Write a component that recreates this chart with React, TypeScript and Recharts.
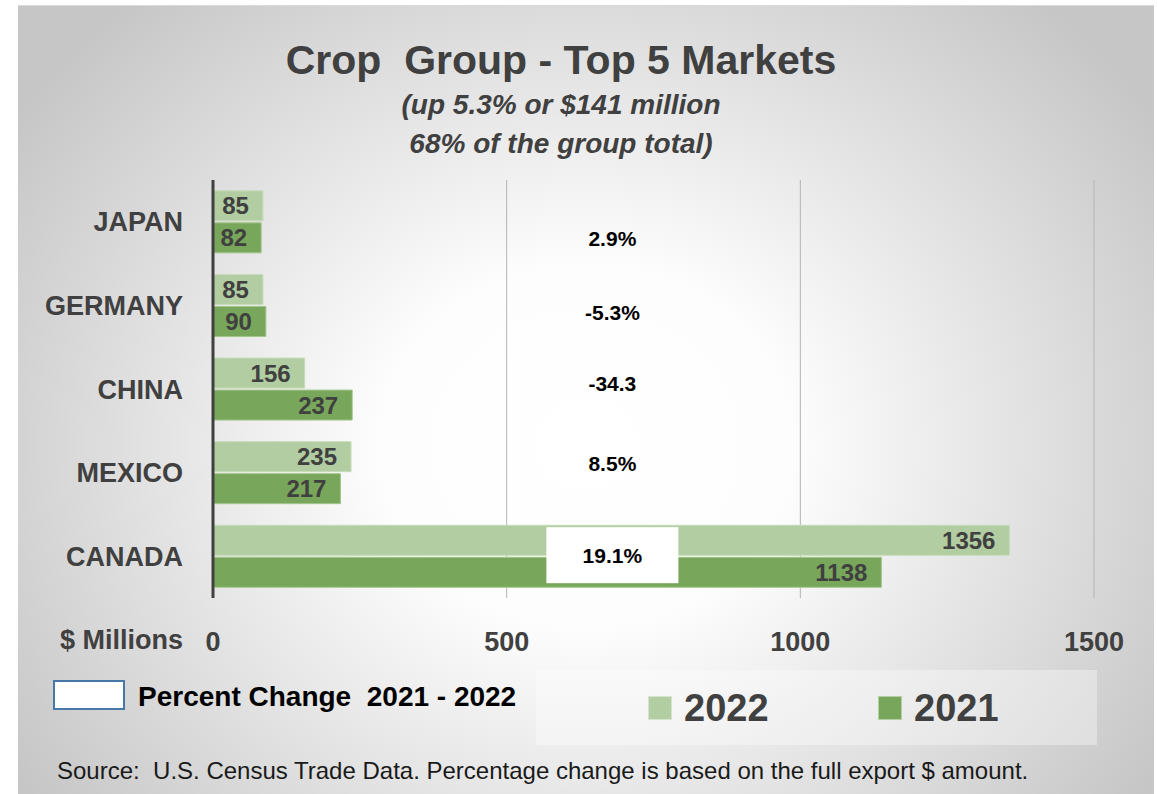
import React from "react"
import { Bar, BarChart, CartesianGrid, LabelList, Legend, ReferenceDot, XAxis, YAxis } from "recharts"

const countries = ["JAPAN", "GERMANY", "CHINA", "MEXICO", "CANADA"]
const exports2022 = [85, 85, 156, 235, 1356]
const exports2021 = [82, 90, 237, 217, 1138]
const pctChange = ["2.9%", "-5.3%", "-34.3", "8.5%", "19.1%"]
const years = ["2022", "2021"]
const xTicks = [0, 500, 1000, 1500]

const rows = countries.map((country, i) => ({
  country,
  y2022: exports2022[i],
  y2021: exports2021[i],
}))

const FONT = '"Liberation Sans", Arial, sans-serif'
const LIGHT = "#b1cda1"
const DARK = "#78a65a"
const INK = "#404040"

// percent notes sit at one spot on the value axis; nudges mimic the hand-placed text boxes
const PCT_X = 680
const pctNudge = [17, 7, -6, -9, -1]

function PctTag({ cx, cy, text, boxed }: { cx: number; cy: number; text: string; boxed: boolean }) {
  return (
    <g>
      {boxed && <rect x={cx - 66} y={cy - 28} width={132} height={56} fill="#ffffff" />}
      <text
        x={cx}
        y={cy}
        dy="0.36em"
        textAnchor="middle"
        fontFamily={FONT}
        fontSize={21}
        fontWeight={700}
        fill="#000"
      >
        {text}
      </text>
    </g>
  )
}

function YearLegend({ payload }: any) {
  const items = [...(payload || [])].sort(
    (a: any, b: any) => years.indexOf(String(a.value)) - years.indexOf(String(b.value))
  )
  return (
    <div style={{ position: "relative", width: 561, height: 75, background: "rgba(255,255,255,0.35)" }}>
      {items.map((p: any, i: number) => (
        <div
          key={p.value}
          style={{
            position: "absolute",
            left: 112 + i * 230,
            top: 0,
            height: 75,
            display: "flex",
            alignItems: "center",
          }}
        >
          <span
            style={{
              display: "inline-block",
              width: 22,
              height: 22,
              background: p.color,
              border: "1px solid rgba(255,255,255,0.45)",
              marginRight: 12,
            }}
          />
          <span style={{ fontFamily: FONT, fontSize: 38, fontWeight: 700, color: INK, lineHeight: 1 }}>
            {p.value}
          </span>
        </div>
      ))}
    </div>
  )
}

const textBase: React.CSSProperties = { position: "absolute", fontFamily: FONT, lineHeight: 1, whiteSpace: "pre" }

export default function App() {
  return (
    <div style={{ position: "absolute", left: 0, top: 0, width: 1157, height: 794, overflow: "hidden", background: "#fff" }}>
      <div
        style={{
          position: "absolute",
          left: 18,
          top: 5,
          width: 1136,
          height: 800,
          borderTop: "1px solid #dadada",
          background:
            "radial-gradient(ellipse 60% 75% at 50% 55%, #ffffff 0%, #fdfdfd 30%, #c6c6c6 100%)",
        }}
      />

      <div style={{ ...textBase, left: 0, width: 1122, top: 40, textAlign: "center", fontSize: 41, fontWeight: 700, color: INK }}>
        {"Crop  Group - Top 5 Markets"}
      </div>
      <div style={{ ...textBase, left: 0, width: 1122, top: 91, textAlign: "center", fontSize: 28, fontWeight: 700, fontStyle: "italic", color: INK }}>
        (up 5.3% or $141 million
      </div>
      <div style={{ ...textBase, left: 0, width: 1122, top: 130, textAlign: "center", fontSize: 28, fontWeight: 700, fontStyle: "italic", color: INK }}>
        68% of the group total)
      </div>

      <div style={{ ...textBase, left: 0, width: 183, top: 627, textAlign: "right", fontSize: 27, fontWeight: 700, color: INK }}>
        $ Millions
      </div>

      <div
        style={{
          position: "absolute",
          left: 53,
          top: 680,
          width: 68,
          height: 26,
          background: "#fff",
          border: "2px solid #4a77aa",
        }}
      />
      <div style={{ ...textBase, left: 138, top: 683, fontSize: 28, fontWeight: 700, color: "#000" }}>
        {"Percent Change  2021 - 2022"}
      </div>

      <div style={{ ...textBase, left: 57, top: 759, fontSize: 24, color: "#1a1a1a" }}>
        {"Source:  U.S. Census Trade Data. Percentage change is based on the full export $ amount."}
      </div>

      <div style={{ position: "absolute", left: 0, top: 0 }}>
        <BarChart
          width={1157}
          height={794}
          data={rows}
          layout="vertical"
          margin={{ top: 180, right: 63, bottom: 156, left: 18 }}
          barCategoryGap="13%"
          barGap={2}
        >
          <CartesianGrid horizontal={false} stroke="#b4b4b4" />
          <XAxis
            type="number"
            domain={[0, 1500]}
            ticks={xTicks}
            axisLine={false}
            tickLine={false}
            tickSize={0}
            tickMargin={34}
            height={40}
            tick={{ fontFamily: FONT, fontSize: 27, fontWeight: 700, fill: INK }}
          />
          <YAxis
            type="category"
            dataKey="country"
            width={195}
            tickLine={false}
            tickSize={0}
            tickMargin={30}
            axisLine={{ stroke: INK, strokeWidth: 3 }}
            tick={{ fontFamily: FONT, fontSize: 27, fontWeight: 700, fill: INK }}
          />
          <Legend
            verticalAlign="middle"
            align="center"
            wrapperStyle={{ left: 536, top: 670, width: 561, height: 75 }}
            content={<YearLegend />}
          />
          <Bar dataKey="y2022" name="2022" fill={LIGHT} stroke="#c6dcb9" strokeWidth={1} isAnimationActive={false}>
            <LabelList
              dataKey="y2022"
              position="insideRight"
              offset={14}
              fill={INK}
              fontFamily={FONT}
              fontSize={24}
              fontWeight={700}
            />
          </Bar>
          <Bar dataKey="y2021" name="2021" fill={DARK} stroke="#a3c68c" strokeWidth={1} isAnimationActive={false}>
            <LabelList
              dataKey="y2021"
              position="insideRight"
              offset={14}
              fill={INK}
              fontFamily={FONT}
              fontSize={24}
              fontWeight={700}
            />
          </Bar>
          {countries.map((c, i) => (
            <ReferenceDot
              key={c}
              x={PCT_X}
              y={c}
              r={0}
              shape={(p: any) => (
                <PctTag cx={p.cx} cy={p.cy + pctNudge[i]} text={pctChange[i]} boxed={c === "CANADA"} />
              )}
            />
          ))}
        </BarChart>
      </div>
    </div>
  )
}
